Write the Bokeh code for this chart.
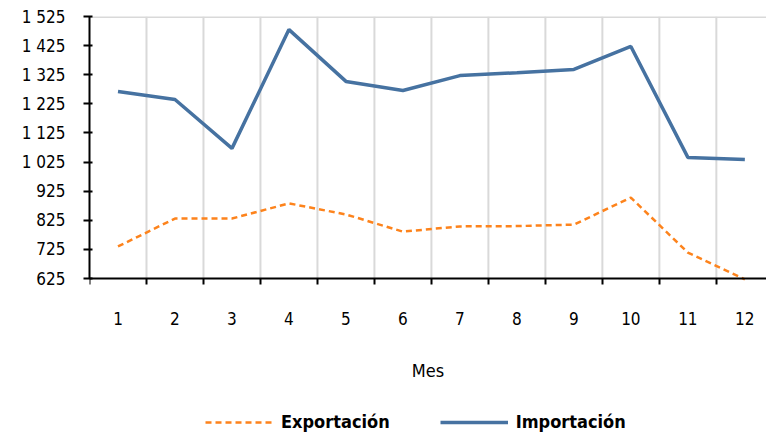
from bokeh.plotting import figure
from bokeh.models import Range1d, FixedTicker, Span, Legend, LegendItem
from bokeh.embed import file_html
from bokeh.resources import INLINE

meses = list(range(1, 13))
exportacion = [735, 831, 831, 883, 845, 786, 804, 805, 810, 903, 714, 622]
importacion = [1267, 1240, 1072, 1480, 1302, 1271, 1322, 1332, 1343, 1422, 1041, 1034]
y_ticks = [625, 725, 825, 925, 1025, 1125, 1225, 1325, 1425, 1525]
y_labels = ["625", "725", "825", "925", "1 025", "1 125", "1 225", "1 325", "1 425", "1 525"]
x_labels = [str(m) for m in meses]
limites = [m + 0.5 for m in range(0, 12)]

FONT = "DejaVu Sans Condensed"
BLUE = "#4672a1"
ORANGE = "#fd831c"
GRID = "#d9d9d9"

# frame spans from top margin to page bottom; data area occupies the upper 262 px
y_lo, y_hi = y_ticks[0], y_ticks[-1]
y_min = y_lo - (157 / 262) * (y_hi - y_lo)

p = figure(width=766, height=435, output_backend="svg", toolbar_location=None,
           x_range=Range1d(0.5, 12.38), y_range=Range1d(y_min, y_hi),
           min_border_left=89, min_border_right=0, min_border_top=16, min_border_bottom=0)
p.outline_line_color = None
p.background_fill_color = "white"
p.xgrid.grid_line_color = None
p.ygrid.grid_line_color = None

# vertical grid lines between months, limited to the data area
p.segment(x0=limites[1:], y0=[y_lo] * 11, x1=limites[1:], y1=[y_hi] * 11,
          line_color=GRID, line_width=2)
p.segment(x0=[limites[0]], y0=[y_hi], x1=[12.38], y1=[y_hi], line_color=GRID, line_width=3)

r_exp = p.line(meses, exportacion, line_color=ORANGE, line_width=2.5, line_dash="6 4")
r_imp = p.line(meses, importacion, line_color=BLUE, line_width=3.5)

# x axis placed at the data bottom (625)
xa = p.xaxis[0]
xa.fixed_location = y_lo
xa.ticker = FixedTicker(ticks=meses, minor_ticks=limites)
xa.major_label_overrides = {m: x_labels[i] for i, m in enumerate(meses)}
xa.major_tick_in = 0
xa.major_tick_out = 0
xa.minor_tick_in = 0
xa.minor_tick_out = 6
xa.minor_tick_line_width = 2
xa.minor_tick_line_color = "black"
xa.axis_line_width = 2
xa.axis_line_color = "black"
xa.major_label_standoff = 27
xa.major_label_text_font = FONT
xa.major_label_text_font_size = "17px"
xa.major_label_text_color = "black"
xa.axis_label = "Mes"
xa.axis_label_text_font = FONT
xa.axis_label_text_font_size = "18px"
xa.axis_label_text_font_style = "normal"
xa.axis_label_text_color = "black"
xa.axis_label_standoff = 32

ya = p.yaxis[0]
ya.bounds = (y_lo, y_hi)
ya.ticker = FixedTicker(ticks=y_ticks, minor_ticks=[])
ya.major_label_overrides = {t: y_labels[i] for i, t in enumerate(y_ticks)}
ya.major_tick_in = 3
ya.major_tick_out = 6
ya.major_tick_line_width = 2
ya.axis_line_width = 2
ya.axis_line_color = "black"
ya.major_label_standoff = 18
ya.major_label_text_font = FONT
ya.major_label_text_font_size = "17px"
ya.major_label_text_color = "black"

legend = Legend(items=[LegendItem(label="Exportación", renderers=[r_exp]),
                       LegendItem(label="Importación", renderers=[r_imp])],
                orientation="horizontal", location=(116, 3))
legend.label_text_font = FONT
legend.label_text_font_size = "18px"
legend.label_text_font_style = "bold"
legend.label_text_color = "black"
legend.glyph_width = 68
legend.label_standoff = 8
legend.spacing = 50
legend.border_line_color = None
legend.background_fill_alpha = 0
legend.margin = 0
legend.padding = 0
p.add_layout(legend, "center")

open("out.html", "w").write(file_html(p, INLINE))
